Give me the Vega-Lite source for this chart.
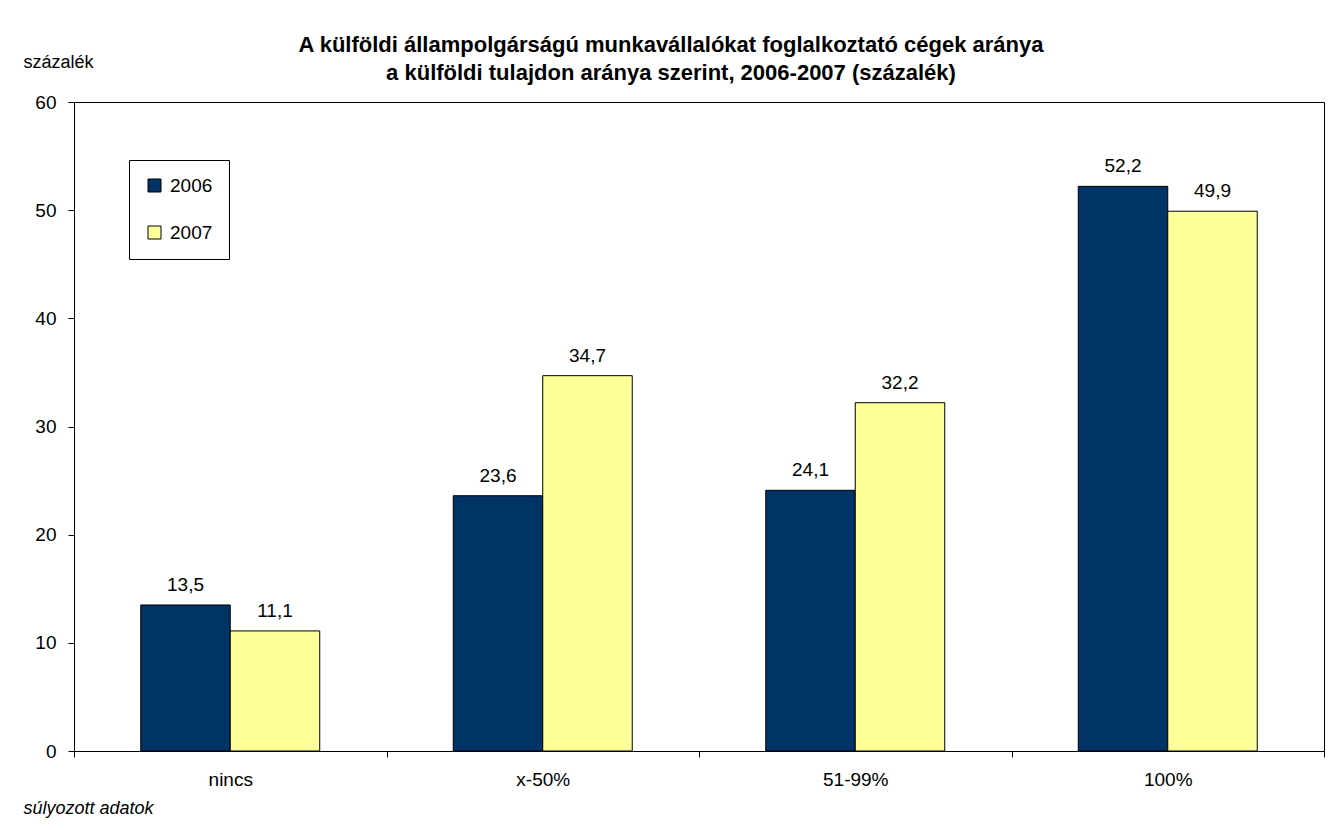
{
  "$schema": "https://vega.github.io/schema/vega-lite/v6.json",
  "width": 1250,
  "height": 649,
  "autosize": {"type": "none"},
  "padding": {"left": 74, "top": 102, "right": 16, "bottom": 75},
  "background": "white",
  "config": {
    "font": "Liberation Sans",
    "view": {"stroke": "black", "strokeWidth": 1},
    "locale": {"number": {"decimal": ",", "thousands": " ", "grouping": [3], "currency": ["", " Ft"]}}
  },
  "title": {
    "text": ["A külföldi állampolgárságú munkavállalókat foglalkoztató cégek aránya", "a külföldi tulajdon aránya szerint, 2006-2007 (százalék)"],
    "anchor": "middle",
    "frame": "group",
    "dx": -28,
    "dy": 3,
    "offset": -29,
    "fontSize": 22,
    "fontWeight": "bold",
    "lineHeight": 28,
    "color": "black"
  },
  "data": {
    "values": [
      {"kategoria": "nincs", "ev": "2006", "ertek": 13.5},
      {"kategoria": "nincs", "ev": "2007", "ertek": 11.1},
      {"kategoria": "x-50%", "ev": "2006", "ertek": 23.6},
      {"kategoria": "x-50%", "ev": "2007", "ertek": 34.7},
      {"kategoria": "51-99%", "ev": "2006", "ertek": 24.1},
      {"kategoria": "51-99%", "ev": "2007", "ertek": 32.2},
      {"kategoria": "100%", "ev": "2006", "ertek": 52.2},
      {"kategoria": "100%", "ev": "2007", "ertek": 49.9}
    ]
  },
  "encoding": {
    "x": {
      "field": "kategoria",
      "type": "nominal",
      "sort": ["nincs", "x-50%", "51-99%", "100%"],
      "scale": {"paddingInner": 0, "paddingOuter": 0},
      "axis": {
        "title": "súlyozott adatok",
        "titleX": -51,
        "titleY": 62,
        "titleAlign": "left",
        "titleBaseline": "alphabetic",
        "titleAnchor": null,
        "titleFontStyle": "italic",
        "titleFontWeight": "normal",
        "titleFontSize": 18,
        "titleColor": "black",
        "labelAngle": 0,
        "labelFontSize": 19,
        "labelColor": "black",
        "labelPadding": 13,
        "tickBand": "extent",
        "tickSize": 6,
        "tickColor": "black",
        "domainColor": "black",
        "grid": false
      }
    },
    "xOffset": {
      "field": "ev",
      "type": "nominal",
      "scale": {"paddingInner": 0, "paddingOuter": 0.746}
    },
    "y": {
      "field": "ertek",
      "type": "quantitative",
      "scale": {"domain": [0, 60], "nice": false},
      "axis": {
        "values": [0, 10, 20, 30, 40, 50, 60],
        "title": "százalék",
        "titleAngle": 0,
        "titleX": -51,
        "titleY": -35,
        "titleAlign": "left",
        "titleBaseline": "alphabetic",
        "titleAnchor": null,
        "titleFontWeight": "normal",
        "titleFontSize": 18,
        "titleColor": "black",
        "labelFontSize": 19,
        "labelColor": "black",
        "labelPadding": 12,
        "tickSize": 6,
        "tickColor": "black",
        "domainColor": "black",
        "grid": false
      }
    }
  },
  "layer": [
    {
      "mark": {"type": "bar", "stroke": "black", "strokeWidth": 1},
      "encoding": {
        "color": {
          "field": "ev",
          "type": "nominal",
          "scale": {"domain": ["2006", "2007"], "range": ["#003366", "#FFFF99"]},
          "legend": {
            "title": null,
            "orient": "none",
            "legendX": 55,
            "legendY": 58,
            "direction": "vertical",
            "padding": 16,
            "strokeColor": "black",
            "fillColor": "white",
            "symbolType": "square",
            "symbolSize": 169,
            "symbolStrokeColor": "black",
            "symbolStrokeWidth": 1,
            "symbolOpacity": 1,
            "labelFontSize": 19,
            "labelColor": "black",
            "labelOffset": 6,
            "rowPadding": 27
          }
        }
      }
    },
    {
      "mark": {"type": "text", "baseline": "alphabetic", "dy": -14, "fontSize": 19, "color": "black"},
      "encoding": {
        "text": {"field": "ertek", "type": "quantitative", "format": ".1f"}
      }
    }
  ]
}
